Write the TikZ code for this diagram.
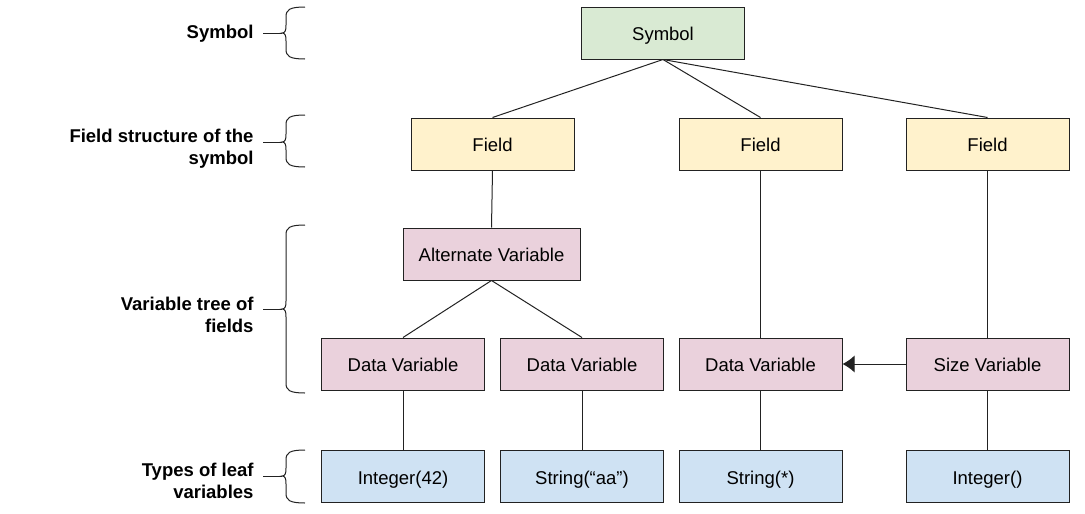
\documentclass[tikz,border=0pt]{standalone}
\usepackage{fontspec}
\setmainfont{Liberation Sans}
\usetikzlibrary{arrows.meta}
\definecolor{symgreen}{HTML}{D9EAD3}
\definecolor{fieldyellow}{HTML}{FFF2CC}
\definecolor{varpink}{HTML}{EAD1DC}
\definecolor{typeblue}{HTML}{CFE2F3}
\definecolor{edge}{HTML}{222222}

\begin{document}
\begin{tikzpicture}[x=1pt, y=-1pt, line width=1pt, draw=edge,
  box/.style = {draw=edge, minimum width=163pt, minimum height=52pt, inner sep=0pt,
    text height=15.4pt, text depth=0pt, font=\fontsize{18.5}{22}\selectfont},
  symbox/.style = {box, fill=symgreen},
  fieldbox/.style = {box, fill=fieldyellow},
  varbox/.style = {box, fill=varpink},
  typebox/.style = {box, fill=typeblue},
  lvl/.style = {anchor=east, align=right, inner sep=0pt,
    font=\fontsize{18.5}{22}\selectfont\bfseries}]
  \useasboundingbox (0,0) rectangle (1085,514);
  % tree
  \node[symbox] (sym) at (663,33) {Symbol};
  \node[fieldbox] (f1) at (492.5,144) {Field};
  \node[fieldbox] (f2) at (760.5,144) {Field};
  \node[fieldbox] (f3) at (987.5,144) {Field};
  \node[varbox, minimum width=177pt] (alt) at (491.5,254) {Alternate Variable};
  \node[varbox] (dv1) at (403,364) {Data Variable};
  \node[varbox] (dv2) at (582,364) {Data Variable};
  \node[varbox] (dv3) at (760.5,364) {Data Variable};
  \node[varbox] (size) at (987.5,364) {Size Variable};
  \node[typebox] (t1) at (403,476.5) {Integer(42)};
  \node[typebox] (t2) at (582,476.5) {String(“aa”)};
  \node[typebox] (t3) at (760.5,476.5) {String(*)};
  \node[typebox] (t4) at (987.5,476.5) {Integer()};
  \draw (sym.south) -- (f1.north);
  \draw (sym.south) -- (f2.north);
  \draw (sym.south) -- (f3.north);
  \draw (f1.south) -- (alt.north);
  \draw (alt.south) -- (dv1.north);
  \draw (alt.south) -- (dv2.north);
  \draw (f2.south) -- (dv3.north);
  \draw (f3.south) -- (size.north);
  \draw (dv1.south) -- (t1.north);
  \draw (dv2.south) -- (t2.north);
  \draw (dv3.south) -- (t3.north);
  \draw (size.south) -- (t4.north);
  \draw[-{Latex[length=12pt,width=17pt]}] (size.west) -- (dv3.east);
  % level labels
  \node[lvl] (l-sym) at (254,34) {Symbol};
  \node[lvl] (l-field) at (254,149) {Field structure of the\\symbol};
  \node[lvl] (l-var) at (254,315) {Variable tree of\\fields};
  \node[lvl] (l-type) at (254,480.5) {Types of leaf\\variables};
  % braces
  \foreach \t/\m/\b/\n in {7/33/59/sym, 115/142/167/field, 225/309/393/var, 450/476/503/type}{
    \draw (305,\t) .. controls (289,\t) and (286,\t+3) .. (286,\t+10) -- (286,\m-8)
      .. controls (286,\m-2) and (285,\m) .. (282,\m)
      .. controls (285,\m) and (286,\m+2) .. (286,\m+8) -- (286,\b-10)
      .. controls (286,\b-3) and (289,\b) .. (305,\b);
    \coordinate (\n-tip) at (282,\m);
    \coordinate (\n-end) at (263,\m);
    \draw (\n-end) -- (\n-tip);
  }
\end{tikzpicture}
\end{document}
